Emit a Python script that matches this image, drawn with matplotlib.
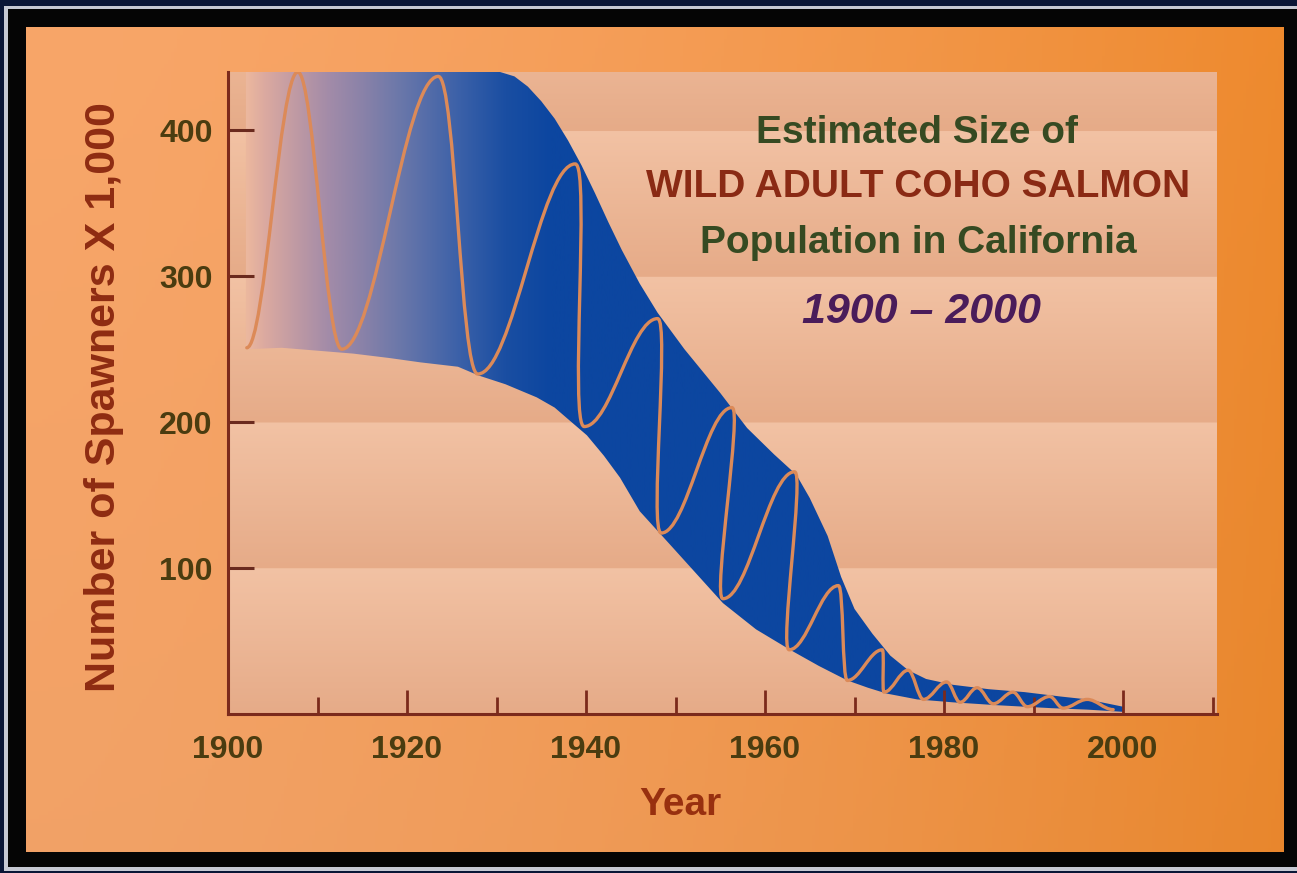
import numpy as np
import matplotlib
matplotlib.use("Agg")
import matplotlib.pyplot as plt
from matplotlib.path import Path
from matplotlib.patches import PathPatch, Polygon, Rectangle
from matplotlib.ticker import MultipleLocator

plt.rcParams["font.family"] = ["Liberation Sans", "DejaVu Sans"]

# spawner range, thousands of fish
upper_years = [1902, 1930.4, 1932, 1933.5, 1935, 1936.5, 1938, 1939.5, 1941, 1942.5,
               1944, 1946, 1948, 1951, 1953, 1955, 1958, 1961, 1963.5, 1965, 1967,
               1968.5, 1970, 1972, 1974, 1976, 1978, 1981, 1985, 1989, 1993, 1996, 2000]
upper_counts = [440, 440, 437, 430, 420, 408, 393, 376, 357, 337,
                318, 295, 275, 250, 235, 220, 196, 178, 164, 148, 122,
                94, 72, 55, 40, 30, 24, 20, 17, 15, 12, 10, 5]
lower_years = [1902, 1906, 1914, 1918, 1921.5, 1925.7, 1928, 1931, 1934.5, 1936.5,
               1938.2, 1940.1, 1942, 1943.8, 1946, 1949.7, 1952.5, 1955.3, 1959,
               1962.8, 1966, 1969.2, 1971.5, 1973.6, 1977, 1981, 1986, 1992, 1996, 2000]
lower_counts = [250, 251, 247, 244, 241, 238, 232, 226, 217, 210,
                201, 191, 177, 162, 139, 114, 95, 76, 58,
                44, 33, 23, 18, 14, 10, 8, 6, 4, 3, 1.5]

# turning points of the year-to-year swing (alternating lows and highs)
swing_years = [1902.1, 1907.8, 1912.7, 1923.5, 1927.9, 1938.8, 1939.8, 1948.0,
               1948.4, 1956.3, 1955.3, 1963.3, 1962.7, 1968.2, 1969.2, 1973.1,
               1973.3, 1976.0, 1977.7, 1980.3, 1981.8, 1983.7, 1985.5, 1987.7,
               1989.3, 1991.8, 1993.3, 1996.0, 1998.9]
swing_counts = [251, 440, 250, 437, 233, 377, 197, 271,
                124, 210, 79, 166, 44, 88, 23, 44,
                15, 30, 10, 22, 8, 18, 7, 15,
                5, 12, 4, 10, 3]

x_ticks = [1900, 1920, 1940, 1960, 1980, 2000]
y_ticks = [100, 200, 300, 400]

W, H = 1297, 873
XMIN, XMAX, YMAX = 1900, 2010.5, 440


def hex_rgb(c):
    return np.array([int(c[i:i + 2], 16) / 255 for i in (1, 3, 5)])


def box(x0, y0, x1, y1):
    # pixel box, origin top-left -> figure fraction [l, b, w, h]
    return [x0 / W, 1 - y1 / H, (x1 - x0) / W, (y1 - y0) / H]


fig = plt.figure(figsize=(W / 100, H / 100), dpi=100)
fig.patch.set_facecolor("#0a1636")

# grey rule and black mat around the card
l, b, w, h = box(4, 6, 1300, 871)
fig.add_artist(Rectangle((l, b), w, h, transform=fig.transFigure, zorder=-10,
                         facecolor="#c6c9d3", edgecolor="none"))
l, b, w, h = box(8, 9, 1300, 867)
fig.add_artist(Rectangle((l, b), w, h, transform=fig.transFigure, zorder=-9,
                         facecolor="#050505", edgecolor="none"))

# orange card
card = fig.add_axes(box(26, 27, 1284, 852))
card.axis("off")
t = np.linspace(0, 1, 400) ** 1.6
c_left, c_right = hex_rgb("#f8a669"), hex_rgb("#ee8a2e")
row = c_left[None, :] * (1 - t[:, None]) + c_right[None, :] * t[:, None]
vert = np.linspace(1.0, 0.975, 200)
card_img = row[None, :, :] * vert[:, None, None]
card.imshow(card_img, aspect="auto", extent=(0, 1, 0, 1))
card.set_xlim(0, 1)
card.set_ylim(0, 1)

ax = fig.add_axes(box(228, 72, 1217, 714))
ax.set_xlim(XMIN, XMAX)
ax.set_ylim(0, YMAX)

# banded peach backdrop, each 100k band darkening toward its bottom
yy = np.linspace(0, YMAX, 881)
shade = 1 - (yy % 100) / 100
light, dark = hex_rgb("#f2c2a4"), hex_rgb("#e6ab88")
band = light[None, :] * (1 - shade[:, None]) + dark[None, :] * shade[:, None]
ax.imshow(band[:, None, :], aspect="auto", origin="lower",
          extent=(XMIN, XMAX, 0, YMAX), zorder=0)

# range envelope with the faded-in blue fill
env_x = upper_years + lower_years[::-1]
env_y = upper_counts + lower_counts[::-1]
env = Polygon(np.column_stack([env_x, env_y]), closed=True,
              facecolor="none", edgecolor="none", transform=ax.transData)
ax.add_patch(env)

stop_x = [1902, 1904, 1908, 1911, 1915, 1919, 1926, 1931, 1936]
stop_c = [hex_rgb(c) for c in ["#ecb89e", "#dcaaa0", "#bc98a4", "#a48ca8", "#8a82a8",
                                "#6c78aa", "#3a60a8", "#1a4ea2", "#0c46a0"]]
gx = np.linspace(XMIN, XMAX, 1200)
grad = np.stack([np.interp(gx, stop_x, [c[k] for c in stop_c]) for k in range(3)], axis=-1)
fill = ax.imshow(grad[None, :, :], aspect="auto", origin="lower",
                 extent=(XMIN, XMAX, 0, YMAX), zorder=1)
fill.set_clip_path(env)

# swing line: smooth arcs with flat tangents at each high and low
pts = list(zip(swing_years, swing_counts))
verts = [pts[0]]
codes = [Path.MOVETO]
for (x0, y0), (x1, y1) in zip(pts[:-1], pts[1:]):
    hnd = max(0.36 * abs(x1 - x0), 0.0095 * abs(y1 - y0))
    verts += [(x0 + hnd, y0), (x1 - hnd, y1), (x1, y1)]
    codes += [Path.CURVE4] * 3
ax.add_patch(PathPatch(Path(verts, codes), fill=False, edgecolor="#dc8a58",
                       lw=2.4, zorder=3, capstyle="round", joinstyle="round"))

axis_col = "#7b2a1c"
for side in ("top", "right"):
    ax.spines[side].set_visible(False)
for side in ("left", "bottom"):
    ax.spines[side].set_color(axis_col)
    ax.spines[side].set_linewidth(2.2)
    ax.spines[side].set_zorder(4)

tick_col = "#4a3c10"
ax.set_xticks(x_ticks)
ax.set_xticklabels([str(v) for v in x_ticks], fontweight="bold")
ax.xaxis.set_minor_locator(MultipleLocator(10))
ax.set_yticks(y_ticks)
ax.set_yticklabels([str(v) for v in y_ticks], fontweight="bold")
ax.tick_params(axis="x", which="major", direction="in", length=17, width=2,
               color=axis_col, pad=15, labelsize=23, labelcolor=tick_col)
ax.tick_params(axis="x", which="minor", direction="in", length=12, width=2,
               color=axis_col)
ax.tick_params(axis="y", which="major", direction="in", length=19, width=2.2,
               color="#6a2a1e", pad=11, labelsize=23, labelcolor=tick_col)

fig.text(104 / W, 1 - 397 / H, "Number of Spawners X 1,000", rotation=90,
         ha="center", va="center", fontsize=31, fontweight="bold", color="#8e2c12")
fig.text(680 / W, 1 - 815 / H, "Year", ha="center", va="baseline",
         fontsize=28, fontweight="bold", color="#98300f")

fig.text(917 / W, 1 - 143 / H, "Estimated Size of", ha="center", va="baseline",
         fontsize=28, fontweight="bold", color="#364a22")
fig.text(918 / W, 1 - 197 / H, "WILD ADULT COHO SALMON", ha="center", va="baseline",
         fontsize=28, fontweight="bold", color="#8a2a14")
fig.text(918 / W, 1 - 253 / H, "Population in California", ha="center", va="baseline",
         fontsize=28, fontweight="bold", color="#364a22")
fig.text(921 / W, 1 - 323 / H, "1900 \u2013 2000", ha="center", va="baseline",
         fontsize=31, fontweight="bold", fontstyle="italic", color="#4a1c5a")

fig.savefig("out.png", dpi=100, facecolor=fig.get_facecolor())
